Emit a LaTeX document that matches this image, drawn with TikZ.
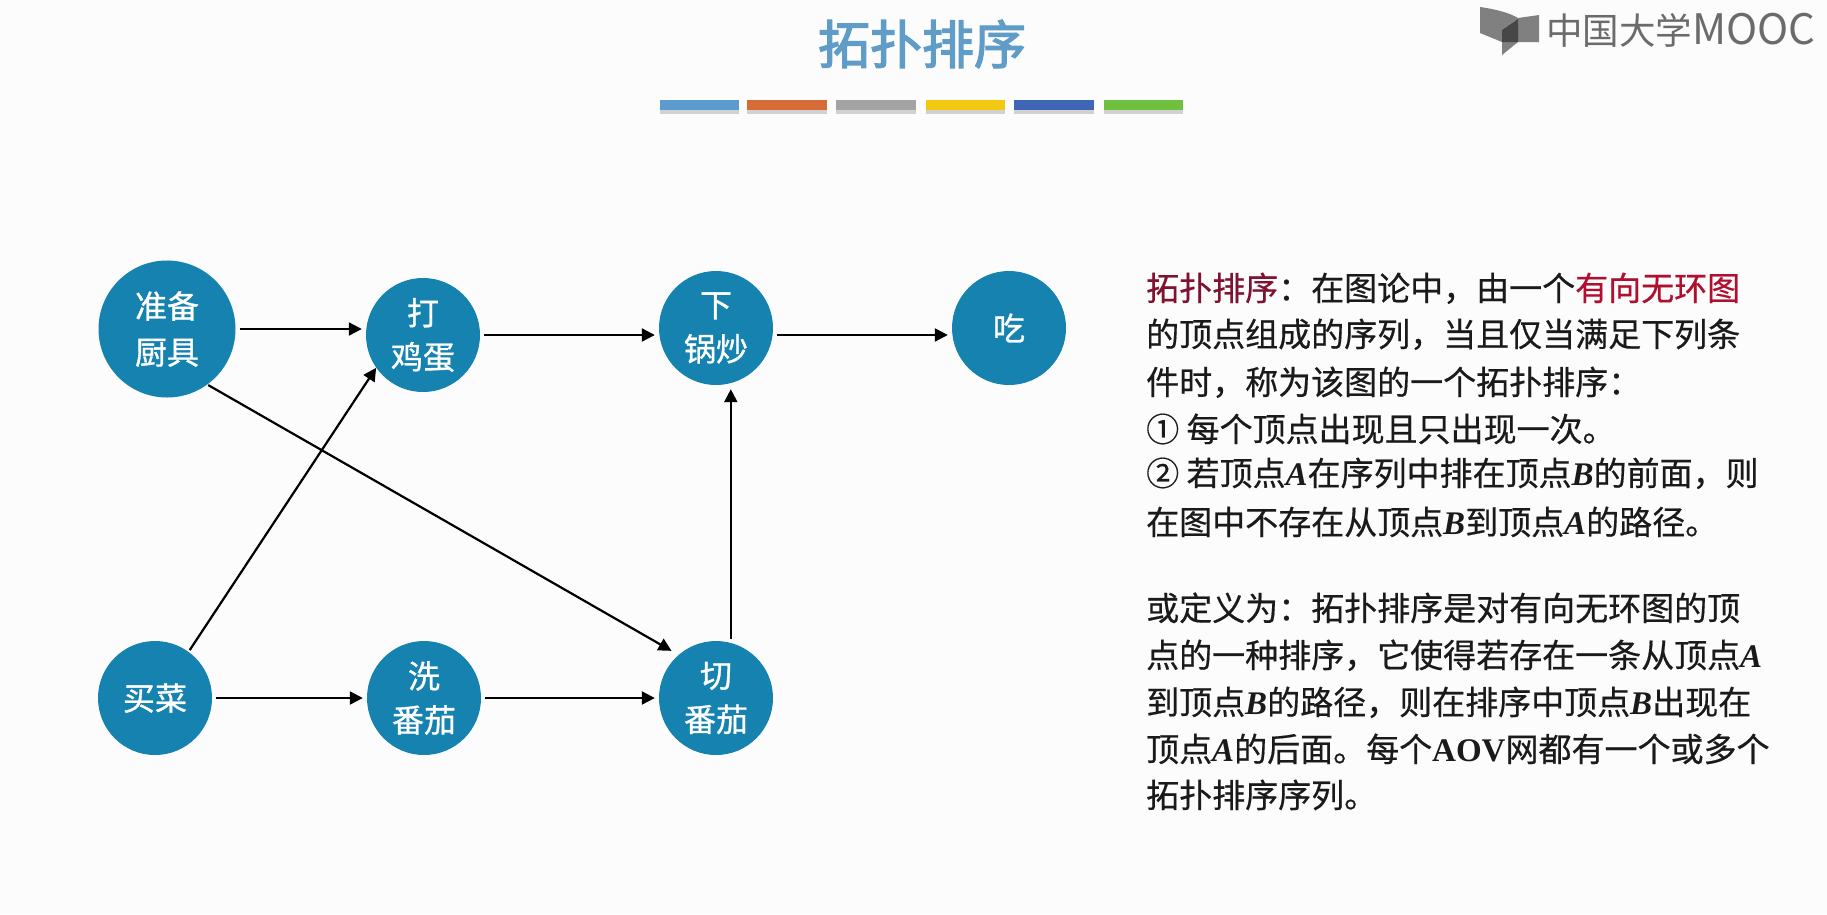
\documentclass[tikz,border=0pt]{standalone}
\usepackage{fontspec}
\setmainfont{Noto Sans CJK SC}
\newfontfamily\latinserif{Liberation Serif}
\newfontfamily\heavycjk[FakeBold=0.5]{Noto Sans CJK SC}
\newfontfamily\nodecjk[FakeBold=1]{Noto Sans CJK SC}
\newfontfamily\titlecjk[FakeBold=2.6]{Noto Sans CJK SC}
\usetikzlibrary{arrows.meta}
\newcommand{\varA}{{\latinserif\bfseries\itshape A}}
\newcommand{\varB}{{\latinserif\bfseries\itshape B}}
\definecolor{nodeblue}{HTML}{1582AF}
\definecolor{titleblue}{HTML}{5F9CC8}
\definecolor{termred}{HTML}{7E1230}
\definecolor{keyred}{HTML}{B01030}
\definecolor{bodyblack}{HTML}{1A1A1A}
\tikzset{
  vertex/.style={circle,fill=nodeblue,text=white,inner sep=0pt,minimum size=114pt,align=center,font=\nodecjk\fontsize{32}{44}\selectfont},
  bigvertex/.style={vertex,minimum size=137pt,font=\nodecjk\fontsize{32}{46}\selectfont},
  edge/.style={draw=black,line width=2.2pt,-{Triangle[length=13pt,width=13pt]},shorten <=4pt,shorten >=4pt},
  bodyline/.style={anchor=base west,inner sep=0pt,text=bodyblack,font=\heavycjk\fontsize{33}{38}\selectfont},
}
\begin{document}
\begin{tikzpicture}[x=1pt,y=-1pt]
\useasboundingbox (0,0) rectangle (1827,914);
\fill[white!99!black] (0,0) rectangle (1827,914);

% title
\node[text=titleblue,font=\titlecjk\fontsize{52}{60}\selectfont,inner sep=0pt] (title) at (922,44) {拓扑排序};

% colour bars
\foreach \xa/\xb/\col in {660/739/5B9BD0,747/827/D66B35,836/916/A3A3A3,926/1005/F2C811,1014/1094/3F66B5,1104/1183/70C040}{
  \definecolor{barcol}{HTML}{\col}
  \fill[black!18] (\xa,106) rectangle (\xb,114);
  \fill[barcol] (\xa,100) rectangle (\xb,110);
}

% logo
\fill[black!50] (1480,7) .. controls (1495,9) and (1510,13) .. (1518,18) -- (1502,30) -- (1502,42) -- (1480,33) -- cycle;
\fill[black!50] (1518,18) -- (1539,15) -- (1539,42) -- (1518,42) -- (1502,55) -- (1502,30) -- cycle;
\fill[black!72] (1502,30) -- (1518,19) -- (1518,42) -- (1502,42) -- cycle;
\node[text=black!58,font=\fontsize{36.5}{40}\selectfont,anchor=west,inner sep=0pt] (logo) at (1546,30) {中国大学{\fontsize{42}{40}\selectfont MOOC}};

% vertices
\node[bigvertex] (a) at (167,329) {准备\\厨具};
\node[vertex] (b) at (423,335) {打\\鸡蛋};
\node[vertex] (c) at (716,328) {下\\锅炒};
\node[vertex] (d) at (1009,328) {吃};
\node[vertex] (g) at (155,698) {买菜};
\node[vertex] (e) at (424,698) {洗\\番茄};
\node[vertex] (f) at (716,698) {切\\番茄};

% connectors
\draw[edge] (a.east) -- (a.east -| b.west);
\draw[edge] (b.east) -- (b.east -| c.west);
\draw[edge] (c.-7) -- (c.-7 -| d.west);
\draw[edge] (g.east) -- (e.west);
\draw[edge] (e.east) -- (f.west);
\draw[edge] (f.75) -- (f.75 |- c.south);
\draw[edge,shorten <=2pt,shorten >=0pt] (g.54) -- (b.215);
\draw[edge,shorten <=1pt,shorten >=8pt] (a.-54) -- (f.131);

% definition text
\node[bodyline] (t1) at (1146,300.5) {{\color{termred}拓扑排序}：在图论中，由一个{\color{keyred}有向无环图}};
\node[bodyline] (t2) at (1146,346.5) {的顶点组成的序列，当且仅当满足下列条};
\node[bodyline] (t3) at (1146,394.5) {件时，称为该图的一个拓扑排序：};
\node[bodyline] (t4) at (1146,441.5) {① 每个顶点出现且只出现一次。};
\node[bodyline] (t5) at (1146,485.5) {② 若顶点\varA 在序列中排在顶点\varB 的前面，则};
\node[bodyline] (t6) at (1146,534.5) {在图中不存在从顶点\varB 到顶点\varA 的路径。};

\node[bodyline] (u1) at (1146,620.5) {或定义为：拓扑排序是对有向无环图的顶};
\node[bodyline] (u2) at (1146,667.5) {点的一种排序，它使得若存在一条从顶点\varA};
\node[bodyline] (u3) at (1146,714.5) {到顶点\varB 的路径，则在排序中顶点\varB 出现在};
\node[bodyline] (u4) at (1146,761.5) {顶点\varA 的后面。每个{\latinserif\bfseries AOV}网都有一个或多个};
\node[bodyline] (u5) at (1146,807.5) {拓扑排序序列。};
\end{tikzpicture}
\end{document}
